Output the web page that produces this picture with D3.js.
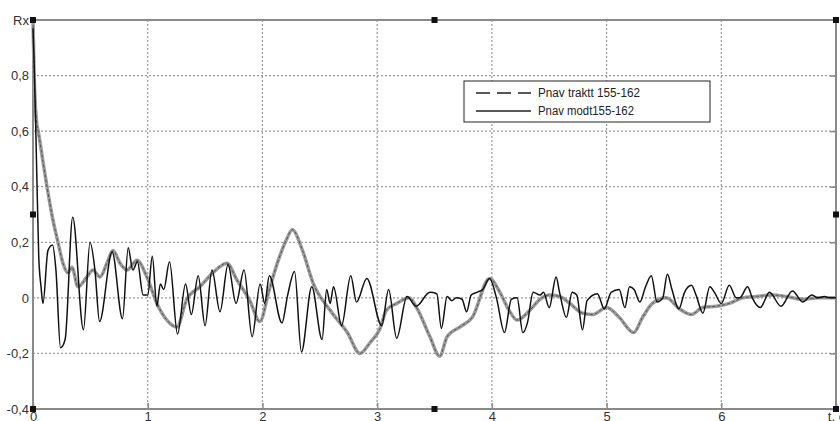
<!DOCTYPE html>
<html>
<head>
<meta charset="utf-8">
<script src="https://cdn.jsdelivr.net/npm/d3@7"></script>
<style>
  body { margin: 0; background: #fff; }
  svg { display: block; font-family: "Liberation Sans", Arial, sans-serif; }
</style>
</head>
<body>
<div class="chart"></div>
<script>
// time axis (t) and Rx values
const modT = [0, 0.01, 0.03, 0.05, 0.07, 0.087, 0.13, 0.17, 0.2, 0.24, 0.28, 0.346, 0.44, 0.497, 0.54, 0.58, 0.69, 0.78, 0.83, 0.87, 0.91, 0.96, 1.0, 1.04, 1.08, 1.11, 1.14, 1.19,
  1.26, 1.33, 1.38, 1.44, 1.5, 1.56, 1.63, 1.7, 1.77, 1.84, 1.91, 1.98, 2.02, 2.06,
  2.17, 2.22, 2.28, 2.34, 2.43, 2.52, 2.56, 2.59, 2.62, 2.69, 2.77, 2.82, 2.91, 3.04, 3.1, 3.17, 3.26, 3.34, 3.46, 3.52, 3.56, 3.61, 3.65, 3.69, 3.74, 3.78, 3.82, 3.87, 3.92, 3.98,
  4.04, 4.11, 4.17, 4.22, 4.27, 4.31, 4.36, 4.42, 4.45, 4.5, 4.56, 4.59, 4.65, 4.7, 4.74, 4.79, 4.83, 4.92, 4.98, 5.04, 5.11, 5.16, 5.2, 5.24, 5.29, 5.34, 5.39, 5.44, 5.49, 5.53, 5.57, 5.63, 5.68, 5.74, 5.78, 5.84, 5.9, 5.94, 6.0, 6.07, 6.13, 6.16, 6.23, 6.27, 6.34, 6.42, 6.52, 6.62, 6.71, 6.79, 6.84, 6.9, 6.94, 7.0];
const modRx = [0.97, 0.85, 0.5, 0.15, 0.04, -0.02, 0.17, 0.19, 0.1, -0.18, -0.15, 0.29, -0.115, 0.2, 0.1, -0.085, 0.165, -0.075, 0.18, 0.1, 0.13, 0.01, 0.01, 0.15, -0.03, 0.05, 0.03, 0.13,
  -0.13, 0.05, -0.06, 0.08, -0.1, 0.1, -0.05, 0.12, -0.02, 0.1, -0.14, 0.05, -0.02, 0.08,
  -0.09, 0.01, 0.095, -0.195, 0.04, -0.15, 0.03, -0.02, 0.04, -0.1, 0.08, -0.015, 0.07, -0.1, 0.03, -0.145, 0.005, -0.03, 0.02, 0.015, -0.11, 0.005, -0.01, 0.0, -0.005, -0.05, 0.01, 0.02, 0.03, 0.07,
  0.0, -0.125, -0.005, 0.0, -0.125, -0.09, 0.02, 0.01, 0.02, -0.035, 0.075, 0.02, -0.07, 0.02, 0.01, -0.115, -0.01, 0.015, -0.04, 0.02, 0.03, -0.035, 0.04, 0.03, -0.015, 0.04, 0.08, -0.015, 0.0, 0.085, 0.03, -0.04, 0.02, 0.045, 0.01, -0.055, 0.04, 0.02, -0.02, 0.045, 0.0, 0.0, 0.04, 0.0, -0.035, 0.02, -0.03, 0.025, -0.015, 0.01, 0.0, 0.005, 0.0, 0.0];

const traktT = [0, 0.01, 0.035, 0.045, 0.087, 0.122, 0.174, 0.218, 0.261, 0.305, 0.34, 0.392, 0.47, 0.523, 0.584, 0.645, 0.697, 0.758, 0.819, 0.906, 0.993, 1.08, 1.167, 1.254, 1.341, 1.455, 1.568, 1.69, 1.777, 1.89, 1.977,
  2.06, 2.13, 2.21, 2.26, 2.35, 2.44, 2.59, 2.74, 2.85, 2.94, 3.02, 3.08, 3.17, 3.28, 3.35, 3.46, 3.545, 3.61, 3.72, 3.83, 3.98, 4.07, 4.15, 4.22, 4.33, 4.42, 4.5, 4.59, 4.68, 4.79, 4.878, 5.0, 5.11, 5.235, 5.314, 5.4, 5.52, 5.636, 5.74, 5.836, 5.958, 6.07, 6.185, 6.306, 6.446, 6.568, 6.707, 6.85, 7.0];
const traktRx = [1.0, 0.8, 0.62, 0.6, 0.49, 0.4, 0.28, 0.2, 0.125, 0.09, 0.11, 0.04, 0.075, 0.1, 0.075, 0.125, 0.17, 0.125, 0.1, 0.135, 0.075, -0.02, -0.08, -0.105, -0.005, 0.04, 0.09, 0.125, 0.065, -0.01, -0.085,
  0.03, 0.125, 0.21, 0.245, 0.17, 0.055, -0.045, -0.125, -0.2, -0.16, -0.115, -0.045, -0.02, 0.0, -0.04, -0.14, -0.21, -0.14, -0.105, -0.07, 0.07, 0.02, -0.045, -0.08, -0.045, -0.005, 0.01, 0.005, -0.02, -0.055, -0.06, -0.035, -0.07, -0.125, -0.07, -0.02, 0.0, -0.04, -0.06, -0.035, -0.03, -0.02, 0.0, 0.005, 0.01, 0.005, -0.005, 0.0, 0.0];

const xTicks = [0, 1, 2, 3, 4, 5, 6];
const yTicks = [-0.4, -0.2, 0, 0.2, 0.4, 0.6, 0.8];
const xUnitLabel = "t, c";
const yUnitLabel = "Rx";
const seriesNames = ["Pnav traktt 155-162", "Pnav modt155-162"];

// set the dimensions and margins of the graph
let margin = {top: 20, right: 4, bottom: 12, left: 33},
    width = 840 - margin.left - margin.right,
    height = 421 - margin.top - margin.bottom;

const locale = d3.formatLocale({decimal: ",", thousands: " ", grouping: [3], currency: ["", ""], minus: "-"});
const fmt = locale.format("~g");

const svg = d3.select(".chart")
    .append("svg")
        .attr("width", 840)
        .attr("height", 421)
    .append("g")
        .attr("transform", "translate(" + margin.left + "," + margin.top + ")");

const x = d3.scaleLinear().domain([0, 7]).range([0, width]);
const y = d3.scaleLinear().domain([-0.4, 1.0]).range([height, 0]);

// grid
svg.append("g")
    .selectAll("line")
    .data(xTicks.slice(1))
    .enter().append("line")
        .attr("x1", d => x(d)).attr("x2", d => x(d))
        .attr("y1", 0).attr("y2", height)
        .attr("stroke", "#9a9a9a").attr("stroke-width", 1.2).attr("stroke-dasharray", "2,2");
svg.append("g")
    .selectAll("line")
    .data(yTicks.slice(1))
    .enter().append("line")
        .attr("x1", 0).attr("x2", width)
        .attr("y1", d => y(d)).attr("y2", d => y(d))
        .attr("stroke", "#9a9a9a").attr("stroke-width", 1.2).attr("stroke-dasharray", "2,2");

// axes
const xAxis = svg.append("g")
    .attr("transform", "translate(0," + height + ")")
    .call(d3.axisBottom(x).tickValues(xTicks.concat([7])).tickSize(-6)
        .tickFormat(d => d === 7 ? xUnitLabel : fmt(d)));
xAxis.select(".domain").remove();
xAxis.selectAll("line").attr("stroke", "#8a8a8a").attr("stroke-width", 1.5);
// labels sit at the bottom edge, partly cut like in the original
xAxis.selectAll("text")
    .attr("font-size", 13).attr("fill", "#333")
    .attr("y", 12).attr("dy", 0);

const yAxis = svg.append("g")
    .call(d3.axisLeft(y).tickValues(yTicks.concat([1.0])).tickSize(0).tickPadding(4)
        .tickFormat(d => d === 1.0 ? yUnitLabel : fmt(d)));
yAxis.select(".domain").remove();
yAxis.selectAll("text").attr("font-size", 13).attr("fill", "#333");

const yRight = svg.append("g")
    .attr("transform", "translate(" + width + ",0)")
    .call(d3.axisLeft(y).tickValues(yTicks).tickSize(6).tickFormat(""));
yRight.select(".domain").remove();
yRight.selectAll("line").attr("stroke", "#8a8a8a").attr("stroke-width", 1.5);

// frame
svg.append("rect")
    .attr("width", width).attr("height", height)
    .attr("fill", "none").attr("stroke", "#8a8a8a").attr("stroke-width", 2);

// lines
const line = d3.line()
    .x(d => x(d[0]))
    .y(d => y(d[1]))
    .curve(d3.curveMonotoneX);

const traktData = traktT.map((t, i) => [t, traktRx[i]]);
const modData = modT.map((t, i) => [t, modRx[i]]);

svg.append("path")
    .datum(traktData)
    .attr("d", line)
    .attr("fill", "none").attr("stroke", "#9c9c9c").attr("stroke-width", 3.5);
svg.append("path")
    .datum(traktData)
    .attr("d", line)
    .attr("fill", "none").attr("stroke", "#555").attr("stroke-width", 1).attr("stroke-dasharray", "3,2");

svg.append("path")
    .datum(modData)
    .attr("d", line)
    .attr("fill", "none").attr("stroke", "#111").attr("stroke-width", 1.5);

// selection handles
const handles = [[0, 1.0], [3.5, 1.0], [7, 1.0], [0, 0.3], [7, 0.3], [0, -0.4], [3.5, -0.4], [7, -0.4]];
svg.append("g")
    .selectAll("rect")
    .data(handles)
    .enter().append("rect")
        .attr("x", d => x(d[0]) - 3).attr("y", d => y(d[1]) - 3)
        .attr("width", 6).attr("height", 6)
        .attr("fill", "#111");

// legend
const legend = svg.append("g")
    .attr("transform", "translate(" + (464 - margin.left) + "," + (81 - margin.top) + ")");
legend.append("rect")
    .attr("width", 246).attr("height", 41)
    .attr("fill", "#fff").attr("stroke", "#222").attr("stroke-width", 1);
legend.append("line")
    .attr("x1", 12).attr("x2", 67).attr("y1", 12).attr("y2", 12)
    .attr("stroke", "#222").attr("stroke-width", 1.3).attr("stroke-dasharray", "14,7");
legend.append("line")
    .attr("x1", 12).attr("x2", 67).attr("y1", 30).attr("y2", 30)
    .attr("stroke", "#222").attr("stroke-width", 1.3);
legend.selectAll("text")
    .data(seriesNames)
    .enter().append("text")
        .attr("x", 74).attr("y", (d, i) => 12 + i * 18)
        .attr("dy", "0.35em")
        .attr("font-size", 12).attr("fill", "#222")
        .attr("textLength", (d, i) => i === 0 ? 102 : 96)
        .attr("lengthAdjust", "spacingAndGlyphs")
        .text(d => d);
</script>
</body>
</html>
